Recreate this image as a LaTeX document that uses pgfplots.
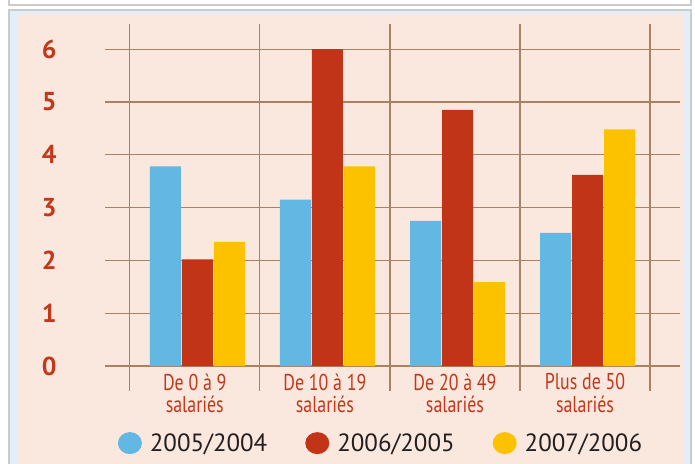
\documentclass[border=0pt]{standalone}
\usepackage{fontspec}
\setmainfont{PT Sans}
\newfontfamily\condfont[FakeStretch=0.78]{PT Sans}
\usepackage{pgfplots}
\pgfplotsset{compat=1.18}

\definecolor{barblue}{HTML}{62B8E2}
\definecolor{barred}{HTML}{C13417}
\definecolor{baryellow}{HTML}{FCC200}
\definecolor{peach}{HTML}{FAE8DF}
\definecolor{gridbrown}{HTML}{A98263}
\definecolor{labred}{HTML}{C2381B}
\definecolor{framegray}{HTML}{C9CBCD}
\definecolor{framelight}{HTML}{E4EEF8}
\definecolor{legtext}{HTML}{231F20}

\begin{document}
\begin{tikzpicture}
\useasboundingbox (0bp,0bp) rectangle (695bp,-464bp);
% frame, drawn in pixel units with y pointing down
\begin{scope}[x=1bp,y=-1bp]
  \fill[white] (0,0) rectangle (695,464);
  \draw[framegray, line width=2bp] (9,-2) -- (9,5) -- (691,5) -- (691,-2);
  \fill[framegray] (8,9) rectangle (692,466);
  \fill[framelight] (10,11) rectangle (690,466);
  \fill[peach] (17,14) rectangle (683,466);
\end{scope}

\begin{axis}[
    at={(105bp,-391bp)}, anchor=south west,
    scale only axis,
    width=575bp, height=367bp,
    xmin=-0.69, xmax=3.73,
    ymin=-0.473, ymax=6.477,
    axis line style={draw=none},
    major tick length=0pt, minor tick length=0pt,
    ytick={0,1,2,3,4,5,6},
    yticklabels={0,1,2,3,4,5,6},
    xtick={0,1,2,3},
    xticklabels={De 0 à 9\\salariés, De 10 à 19\\salariés,
      De 20 à 49\\salariés, Plus de 50\\salariés},
    minor xtick={-0.5,0.5,1.5,2.5,3.5},
    ymajorgrids=true, xmajorgrids=false, xminorgrids=true,
    grid style={gridbrown, line width=1.2bp},
    minor grid style={gridbrown, line width=1.2bp},
    yticklabel style={font=\bfseries\fontsize{26}{26}\selectfont,
      text=labred, xshift=-45bp},
    xticklabel style={font=\condfont\fontsize{23}{23}\selectfont,
      text=labred, align=center, yshift=21bp},
    ybar=1bp, bar width=31bp,
    legend columns=3,
    legend style={at={(axis description cs:0.48,-0.142)}, anchor=center,
      draw=none, fill=none, text=legtext,
      font=\fontsize{25}{25}\selectfont,
      /tikz/every odd column/.append style={column sep=6bp},
      /tikz/every even column/.append style={column sep=36bp}},
]
\addplot[fill=barblue, draw=none,
  legend image code/.code={\fill[barblue] (0bp,0bp) ellipse (12bp and 11bp);}]
  coordinates {(0.02,3.78) (1.02,3.15) (2.02,2.75) (3.02,2.52)};
\addlegendentry{2005/2004}
\addplot[fill=barred, draw=none,
  legend image code/.code={\fill[barred] (0bp,0bp) ellipse (12bp and 11bp);}]
  coordinates {(0.02,2.02) (1.02,6.0) (2.02,4.85) (3.02,3.62)};
\addlegendentry{2006/2005}
\addplot[fill=baryellow, draw=none,
  legend image code/.code={\fill[baryellow] (0bp,0bp) ellipse (12bp and 11bp);}]
  coordinates {(0.02,2.35) (1.02,3.78) (2.02,1.59) (3.02,4.48)};
\addlegendentry{2007/2006}
\end{axis}
\end{tikzpicture}
\end{document}
